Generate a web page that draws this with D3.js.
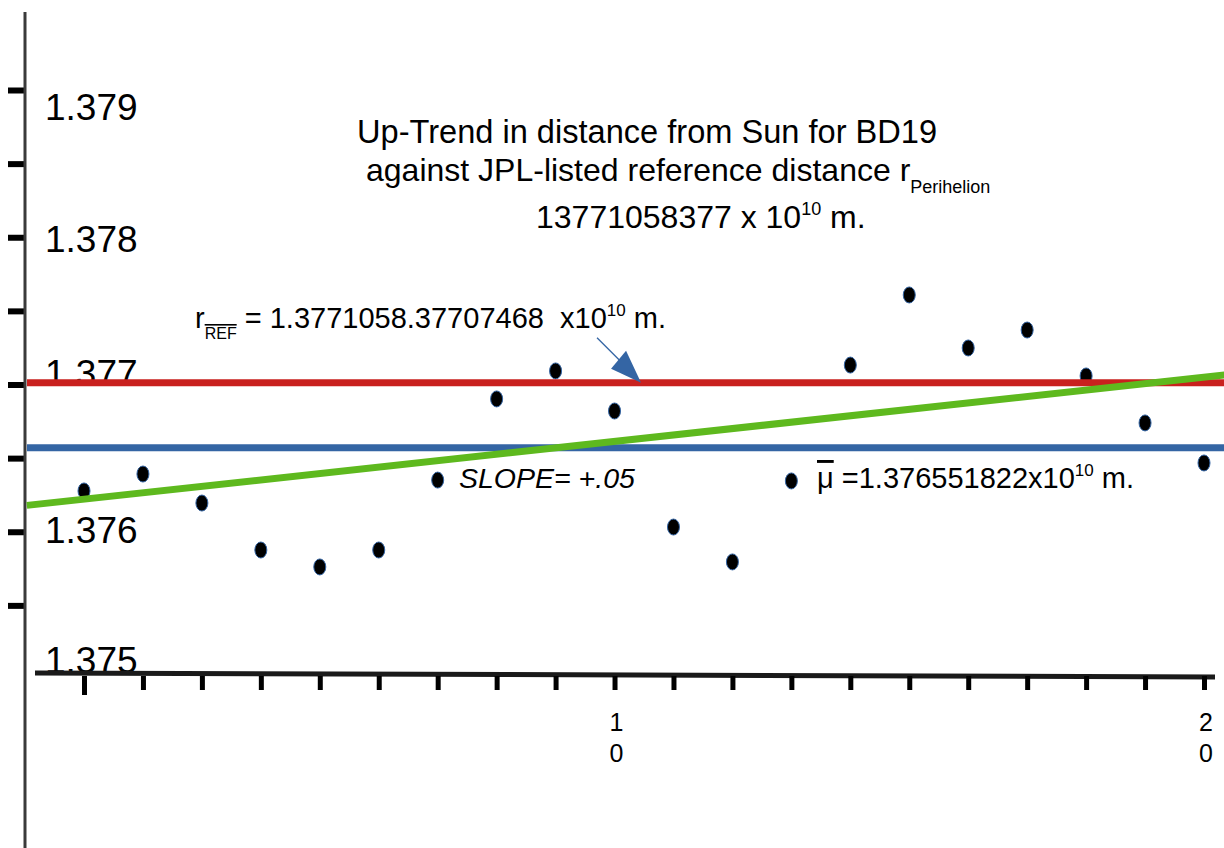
<!DOCTYPE html>
<html>
<head>
<meta charset="utf-8">
<script src="https://cdn.jsdelivr.net/npm/d3@7"></script>
<style>
	body { margin: 0; background: #fff; }
	svg { display: block; font-family: "Liberation Sans", Arial, sans-serif; }
</style>
</head>
<body>
<script>
// observation number and distance (x10^10 m)
var obs = [1, 2, 3, 4, 5, 6, 7, 8, 9, 10, 11, 12, 13, 14, 15, 16, 17, 18, 19, 20];
var dist = [1.376277, 1.376392, 1.376195, 1.375876, 1.375761, 1.375876, 1.376351, 1.376902, 1.377092, 1.376820,
	1.376032, 1.375795, 1.376345, 1.377132, 1.377608, 1.377248, 1.377370, 1.377058, 1.376739, 1.376467];

var refDist = 1.377012;     // red line
var meanDist = 1.376571;    // blue line
var trendObs = [0.03, 20.36];
var trendDist = [1.376179, 1.377065];

var yTicks = [1.379, 1.3785, 1.378, 1.3775, 1.377, 1.3765, 1.376, 1.3755];
var yLabels = ["1.379", "1.378", "1.377", "1.376", "1.375"];
var xLabels = [10, 20];

// label nudges (the labels sit a bit off their ticks)
var yLabelNudge = [30, 15, 1, 11, -6];

var width = 1224, height = 848;

var x = d3.scaleLinear().domain([1, 20]).range([84, 1204]);
var y = d3.scaleLinear().domain([1.375, 1.379]).range([679, 90]);

var svg = d3.select("body").append("svg")
	.attr("width", width)
	.attr("height", height);

// y labels go under everything
svg.selectAll("text.ylab")
	.data(yLabels)
	.enter()
	.append("text")
	.attr("class", "ylab")
	.attr("x", 45)
	.attr("y", function (d, i) { return y(+d) + yLabelNudge[i]; })
	.attr("font-size", "37px")
	.attr("fill", "#000")
	.text(function (d) { return d; });

// Y axis
var yAxis = svg.append("g")
	.attr("transform", "translate(25,0)")
	.call(d3.axisLeft(y).tickValues(yTicks).tickSize(17).tickFormat(""));
yAxis.select(".domain").remove();
yAxis.selectAll(".tick line").attr("stroke", "#000").attr("stroke-width", 6);

svg.append("line")
	.attr("x1", 25).attr("x2", 25)
	.attr("y1", 12).attr("y2", height)
	.attr("stroke", "#3a3a3a")
	.attr("stroke-width", 3);

// X axis (slightly slanted baseline)
svg.append("line")
	.attr("x1", 35).attr("y1", 673)
	.attr("x2", 1215).attr("y2", 677)
	.attr("stroke", "#1a1a1a")
	.attr("stroke-width", 5);

var xAxis = svg.append("g")
	.attr("transform", "translate(0,676)")
	.call(d3.axisBottom(x).tickValues(obs).tickSize(14).tickFormat(""));
xAxis.select(".domain").remove();
xAxis.selectAll(".tick line").attr("stroke", "#000").attr("stroke-width", 5);
xAxis.select(".tick line").attr("y2", 19);

// x labels, digits stacked
xLabels.forEach(function (v) {
	var t = svg.append("text")
		.attr("text-anchor", "middle")
		.attr("font-size", "25px")
		.attr("fill", "#000");
	String(v).split("").forEach(function (c, i) {
		t.append("tspan")
			.attr("x", x(v) + 2)
			.attr("y", 731 + i * 31)
			.text(c);
	});
});

// points
svg.selectAll("ellipse.dot")
	.data(dist)
	.enter()
	.append("ellipse")
	.attr("class", "dot")
	.attr("cx", function (d, i) { return x(obs[i]); })
	.attr("cy", function (d) { return y(d); })
	.attr("rx", 6)
	.attr("ry", 8)
	.attr("fill", "#000")
	.attr("stroke", "#3465a4")
	.attr("stroke-width", 1);

// mean line
svg.append("line")
	.attr("x1", 27).attr("x2", width)
	.attr("y1", y(meanDist)).attr("y2", y(meanDist))
	.attr("stroke", "#3465a4")
	.attr("stroke-width", 7);

// reference line
svg.append("line")
	.attr("x1", 27).attr("x2", width)
	.attr("y1", y(refDist)).attr("y2", y(refDist))
	.attr("stroke", "#c9211e")
	.attr("stroke-width", 7);

// trend line
svg.append("line")
	.attr("x1", x(trendObs[0])).attr("y1", y(trendDist[0]))
	.attr("x2", x(trendObs[1])).attr("y2", y(trendDist[1]))
	.attr("stroke", "#5eb91e")
	.attr("stroke-width", 7);

// arrow pointing at the reference line
var tipX = x(10.45), tipY = y(refDist);
svg.append("line")
	.attr("x1", tipX - 44).attr("y1", tipY - 45)
	.attr("x2", tipX - 16).attr("y2", tipY - 17)
	.attr("stroke", "#3465a4")
	.attr("stroke-width", 1.3);
svg.append("polygon")
	.attr("points", [[tipX, tipY], [tipX - 30, tipY - 14], [tipX - 15, tipY - 32]].join(" "))
	.attr("fill", "#3465a4");

// title
svg.append("text")
	.attr("x", 357).attr("y", 143)
	.attr("font-size", "32.6px")
	.text("Up-Trend in distance from Sun for BD19");

var t2 = svg.append("text")
	.attr("x", 366).attr("y", 181)
	.attr("font-size", "32px");
t2.append("tspan").text("against JPL-listed reference distance r");
t2.append("tspan").attr("font-size", "18px").attr("dy", 12).text("Perihelion");

var t3 = svg.append("text")
	.attr("x", 536).attr("y", 228)
	.attr("font-size", "32px");
t3.append("tspan").text("13771058377 x 10");
t3.append("tspan").attr("font-size", "18px").attr("dy", -13).text("10");
t3.append("tspan").attr("dy", 13).text(" m.");

// r_REF annotation
var tr = svg.append("text")
	.attr("x", 195).attr("y", 328)
	.attr("font-size", "29px")
	.style("white-space", "pre");
tr.append("tspan").text("r");
tr.append("tspan").attr("font-size", "16px").attr("dy", 11)
	.style("text-decoration", "overline").text("REF");
tr.append("tspan").attr("dy", -11).text(" = 1.3771058.37707468  x10");
tr.append("tspan").attr("font-size", "17px").attr("dy", -12).text("10");
tr.append("tspan").attr("dy", 12).text(" m.");

// slope
svg.append("text")
	.attr("x", 459).attr("y", 488)
	.attr("font-size", "28.5px")
	.attr("font-style", "italic")
	.text("SLOPE= +.05");

// mean annotation
var tm = svg.append("text")
	.attr("x", 817).attr("y", 488)
	.attr("font-size", "29px")
	.style("white-space", "pre");
tm.append("tspan").style("text-decoration", "overline").text("\u03bc");
tm.append("tspan").text(" =1.376551822x10");
tm.append("tspan").attr("font-size", "17px").attr("dy", -12).text("10");
tm.append("tspan").attr("dy", 12).text(" m.");
</script>
</body>
</html>
